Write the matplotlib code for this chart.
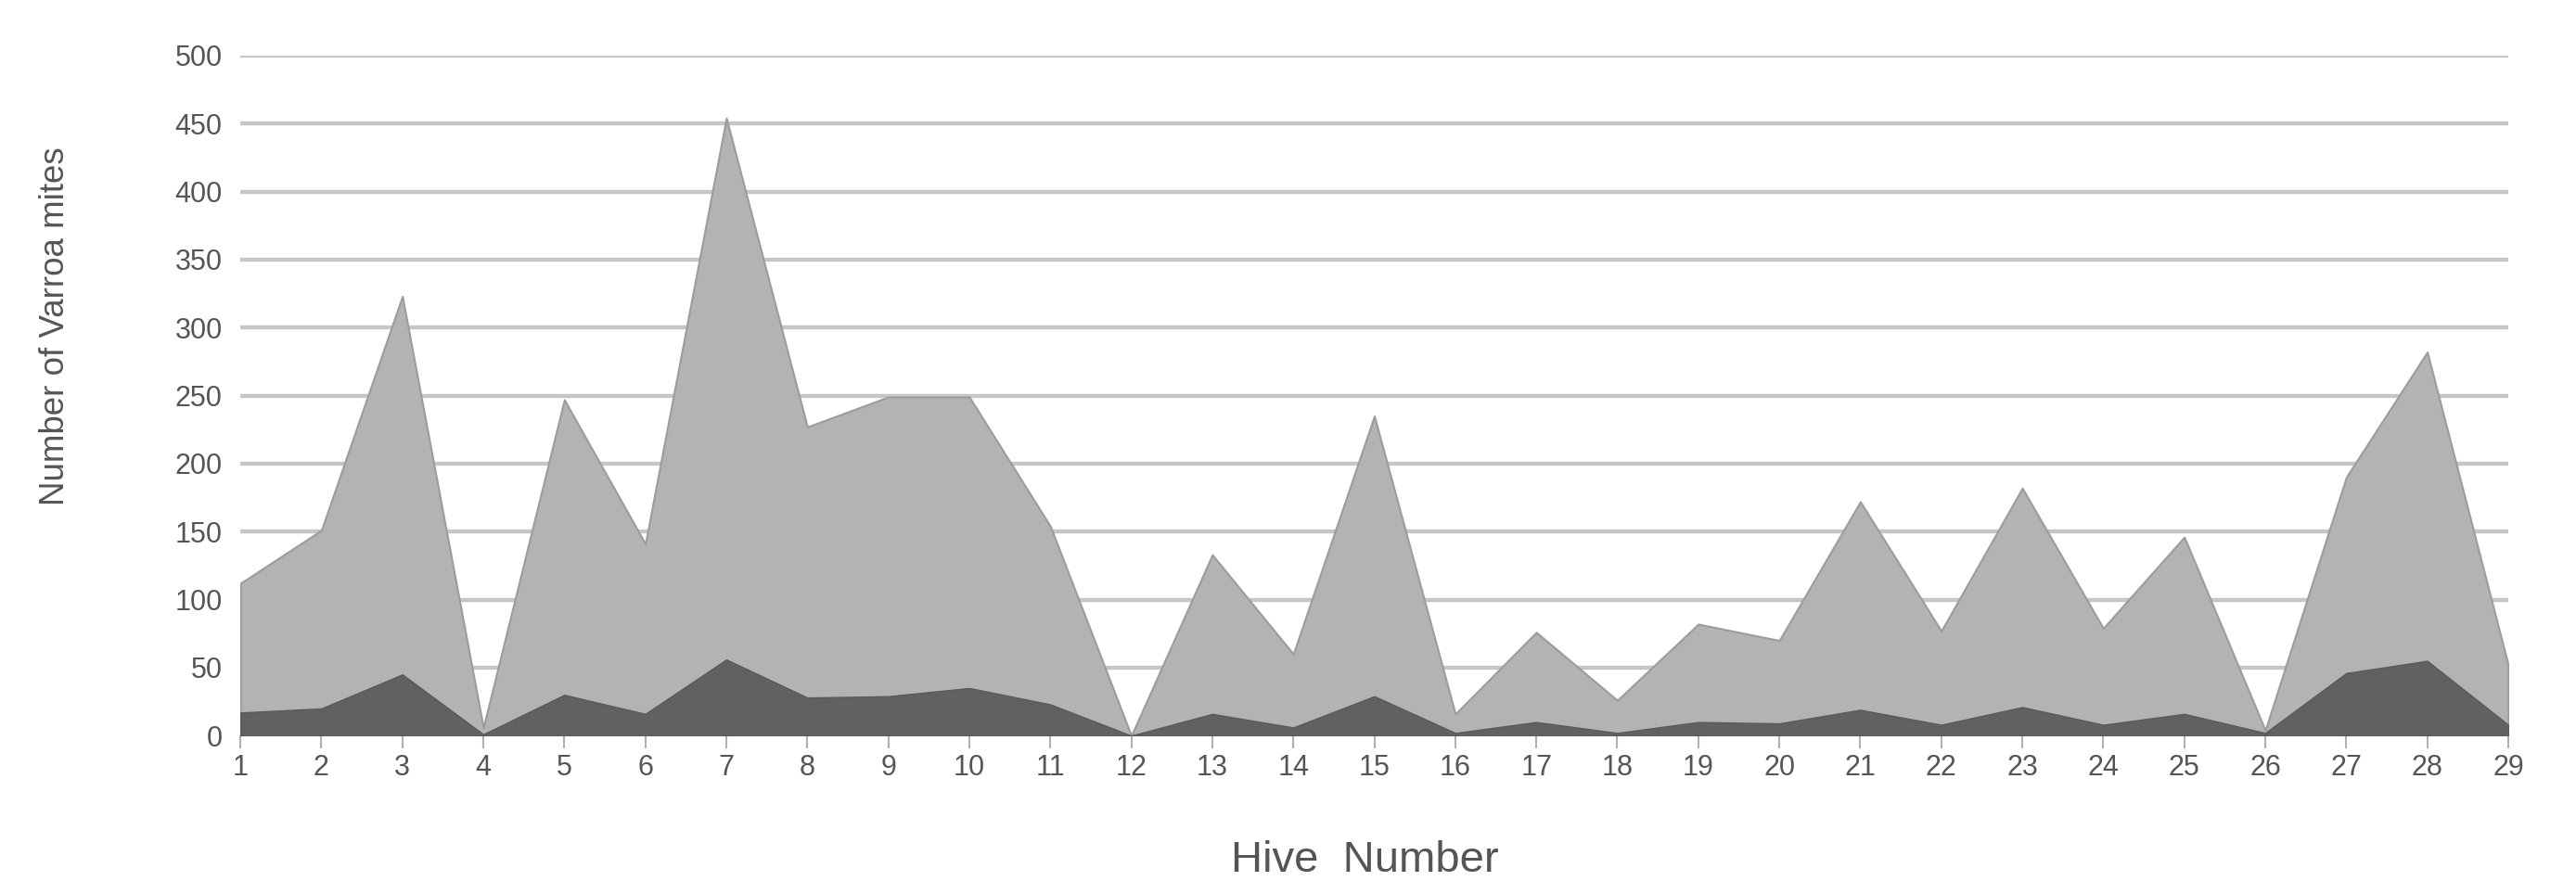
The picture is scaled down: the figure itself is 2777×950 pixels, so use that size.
import numpy as np
import matplotlib.pyplot as plt

# hive numbers along the x axis
hives = list(range(1, 30))

# top of the light grey area (total mites counted per hive)
total_mites = [112, 151, 323, 6, 247, 141, 454, 227, 249, 249, 154, 0, 133, 60,
               235, 16, 76, 26, 82, 70, 172, 77, 182, 79, 146, 4, 190, 282, 52]

# top of the dark grey area
dark_mites = [17, 20, 45, 1, 30, 16, 56, 28, 29, 35, 23, 0, 16, 6,
              29, 2, 10, 2, 10, 9, 19, 8, 21, 8, 16, 2, 46, 55, 8]

y_ticks = [0, 50, 100, 150, 200, 250, 300, 350, 400, 450, 500]

plt.rcParams['font.family'] = ['Liberation Sans', 'DejaVu Sans']

fig = plt.figure(figsize=(27.77, 9.5), dpi=100)
ax = fig.add_axes([0.0933, 0.165, 0.8804, 0.772])

# horizontal grid lines
for v in y_ticks:
	ax.axhline(v, color='#c6c6c6', lw=3.2, zorder=1)

ax.fill_between(hives, total_mites, color='#b3b3b3', edgecolor='#9c9c9c', lw=1.5, zorder=2)
ax.fill_between(hives, dark_mites, color='#616161', edgecolor='#5a5a5a', lw=1.0, zorder=3)

ax.set_xlim(1, 29)
ax.set_ylim(0, 500)
ax.set_xticks(hives)
ax.set_xticklabels([str(h) for h in hives])
ax.set_yticks(y_ticks)
ax.tick_params(axis='x', length=10, width=1.5, color='#b0b0b0', labelsize=22,
               labelcolor='#555555', pad=4)
ax.tick_params(axis='y', length=0, labelsize=22, labelcolor='#555555', pad=14)
for s in ax.spines.values():
	s.set_visible(False)

fig.text(0.0216, 0.63, 'Number of Varroa mites', rotation=90, ha='center', va='center',
         fontsize=26.5, color='#555555')
fig.text(0.53, 0.023, 'Hive  Number', ha='center', va='center', fontsize=34, color='#555555')

fig.savefig('out.png', dpi=100, facecolor='white')
